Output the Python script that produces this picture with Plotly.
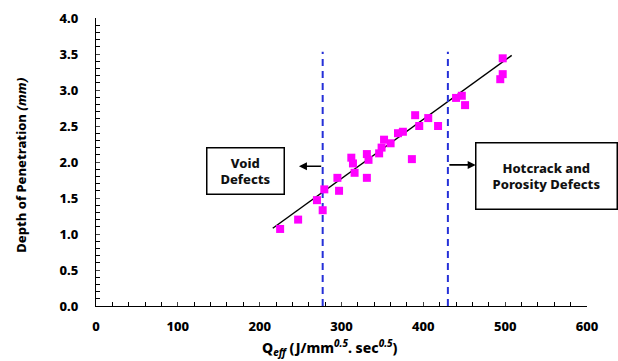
import plotly.graph_objects as go

# Data
q_eff = [225, 247, 270, 277, 279, 295, 297, 312, 314, 316, 331, 333, 331, 346, 349,
         352, 360, 369, 375, 386, 390, 395, 406, 418, 440, 447, 451, 494, 497, 497]
depth = [1.07, 1.20, 1.47, 1.33, 1.62, 1.78, 1.60, 2.06, 1.98, 1.85, 2.11, 2.03, 1.78, 2.12, 2.20,
         2.31, 2.26, 2.40, 2.42, 2.04, 2.65, 2.50, 2.61, 2.50, 2.89, 2.92, 2.79, 3.15, 3.22, 3.44]
trend_x = [216, 508]
trend_y = [1.08, 3.48]
limit_x = [277, 430]
limit_top = 3.53

FONT = "Noto Sans"
W = 800
blue = "#2530D8"

fig = go.Figure()
fig.add_trace(go.Scatter(x=trend_x, y=trend_y, mode="lines",
                         line=dict(color="black", width=1.5), showlegend=False))
for lx in limit_x:
    fig.add_trace(go.Scatter(x=[lx, lx], y=[0, limit_top], mode="lines",
                             line=dict(color=blue, width=2, dash="7px,5px"), showlegend=False))
fig.add_trace(go.Scatter(x=q_eff, y=depth, mode="markers",
                         marker=dict(symbol="square", size=8, color="#FF00FF"),
                         showlegend=False))

# Arrows
fig.add_annotation(x=248, y=1.94, ax=limit_x[0], ay=1.94, xref="x", yref="y",
                   axref="x", ayref="y", text="", showarrow=True,
                   arrowhead=2, arrowsize=1, arrowwidth=1.6, arrowcolor="black")
fig.add_annotation(x=464, y=1.96, ax=limit_x[1], ay=1.96, xref="x", yref="y",
                   axref="x", ayref="y", text="", showarrow=True,
                   arrowhead=2, arrowsize=1, arrowwidth=1.6, arrowcolor="black")

# Boxes
fig.add_annotation(x=182.5, y=1.88, xref="x", yref="y", showarrow=False,
                   text="Void<br>Defects", font=dict(family=FONT, size=13, color="#111", weight=W),
                   bordercolor="black", borderwidth=1.5, bgcolor="white",
                   width=74, height=43, align="center")
fig.add_annotation(x=551, y=1.81, xref="x", yref="y", showarrow=False,
                   text="Hotcrack and<br>Porosity Defects", font=dict(family=FONT, size=13, color="#111", weight=W),
                   bordercolor="black", borderwidth=1.5, bgcolor="white",
                   width=138, height=63, align="center")

# Axis titles
fig.add_annotation(x=0.477, y=-0.147, xref="paper", yref="paper", showarrow=False,
                   xanchor="center", yanchor="middle",
                   text="Q<sub><i>eff</i></sub> (J/mm<sup><i>0.5</i></sup>. sec<sup><i>0.5</i></sup>)",
                   font=dict(family=FONT, size=14, color="black", weight=W))
fig.add_annotation(x=-0.153, y=0.49, xref="paper", yref="paper", showarrow=False,
                   xanchor="center", yanchor="middle", textangle=-90,
                   text="Depth of Penetration <i>(mm)</i>",
                   font=dict(family=FONT, size=13, color="black", weight=W))

tickfont = dict(family=FONT, size=13, color="black", weight=W)
fig.update_layout(
    width=618, height=361,
    margin=dict(l=96, r=31, t=18, b=55),
    paper_bgcolor="white", plot_bgcolor="white",
    font=dict(family=FONT, size=13, color="black"),
    xaxis=dict(range=[0, 600], dtick=100, ticks="inside", ticklen=4, tickwidth=1,
               showline=True, linecolor="black", linewidth=1.2, showgrid=False, zeroline=False,
               tickfont=tickfont, ticklabelstandoff=8, automargin=False,
               minor=dict(dtick=20, ticks="inside", ticklen=4, tickcolor="black", showgrid=False)),
    yaxis=dict(range=[0, 4.0], dtick=0.5, tickformat=".1f", ticks="inside", ticklen=4, tickwidth=1,
               showline=True, linecolor="black", linewidth=1.2, showgrid=False, zeroline=False,
               tickfont=tickfont, ticklabelstandoff=14, automargin=False,
               minor=dict(dtick=0.1, ticks="inside", ticklen=4, tickcolor="black", showgrid=False)),
)
fig.write_html("out.html")
